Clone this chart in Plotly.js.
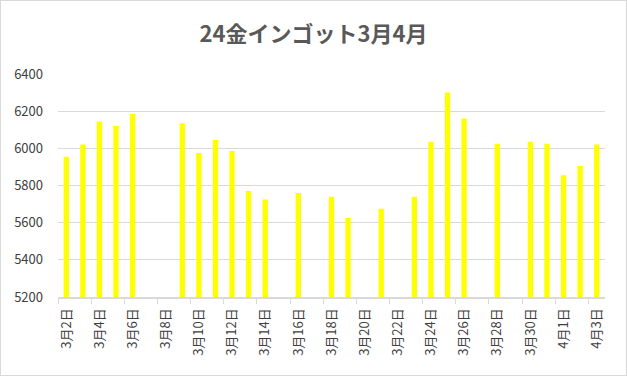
<!DOCTYPE html>
<html>
<head>
<meta charset="utf-8">
<script src="https://cdn.plot.ly/plotly-3.0.1.min.js"></script>
<style>
html,body{margin:0;padding:0;background:#fff;}
#chart{width:627px;height:376px;box-sizing:border-box;border:1px solid #d9d9d9;}
</style>
</head>
<body>
<div id="chart"></div>
<script>
const chartTitle = "24金インゴット3月4月";
const dates = ["3月2日","3月3日","3月4日","3月5日","3月6日","3月7日","3月8日","3月9日","3月10日","3月11日",
  "3月12日","3月13日","3月14日","3月15日","3月16日","3月17日","3月18日","3月19日","3月20日","3月21日",
  "3月22日","3月23日","3月24日","3月25日","3月26日","3月27日","3月28日","3月29日","3月30日","3月31日",
  "4月1日","4月2日","4月3日"];
const prices = [5955,6020,6145,6120,6185,null,null,6135,5975,6045,
  5985,5770,5725,null,5760,null,5740,5625,null,5675,
  null,5740,6035,6300,6160,null,6025,null,6035,6025,
  5855,5905,6020];
const yTicks = [5200,5400,5600,5800,6000,6200,6400];

const font = "'Noto Sans CJK JP', 'Noto Sans', sans-serif";
Plotly.newPlot("chart", [{
  type: "bar",
  x: dates,
  y: prices,
  marker: {color: "#FFFF00"},
  hoverinfo: "x+y"
}], {
  width: 625, height: 374,
  margin: {l: 57, r: 21, t: 73, b: 78, pad: 0},
  paper_bgcolor: "#ffffff",
  plot_bgcolor: "#ffffff",
  bargap: 0.68,
  showlegend: false,
  title: {
    text: "<b>" + chartTitle + "</b>",
    font: {family: font, size: 22, color: "#595959"},
    x: 0.5, xanchor: "center",
    y: 0.91, yanchor: "middle"
  },
  xaxis: {
    type: "category",
    tickmode: "linear", tick0: 0, dtick: 2,
    tickson: "boundaries",
    ticks: "outside", ticklen: 5, tickcolor: "#d9d9d9", tickwidth: 1,
    showline: true, linecolor: "#d9d9d9", linewidth: 2,
    showgrid: false,
    tickangle: -90,
    ticklabelstandoff: 4,
    tickfont: {family: font, size: 13, color: "#404040"},
    fixedrange: true
  },
  yaxis: {
    range: [5200, 6400],
    tickvals: yTicks,
    showgrid: true, gridcolor: "#d9d9d9", gridwidth: 1,
    zeroline: false, showline: false,
    ticks: "", ticklabelstandoff: 14,
    tickfont: {family: font, size: 13, color: "#404040"},
    fixedrange: true
  }
}, {displayModeBar: false, staticPlot: true});
</script>
</body>
</html>
